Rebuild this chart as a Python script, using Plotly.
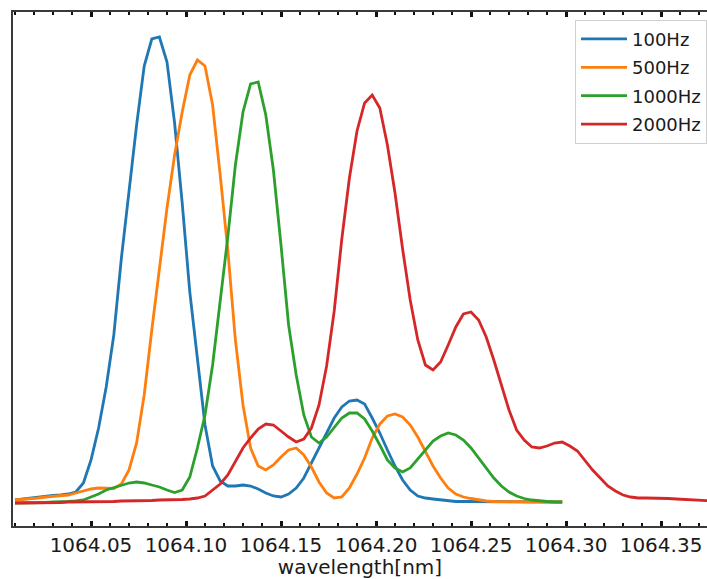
import numpy as np
import plotly.graph_objects as go

# Wavelength grid (nm), 0.004 nm sampling
wl_short = [round(1064.010 + 0.004 * k, 3) for k in range(73)]   # 1064.010 .. 1064.298
wl_long = [round(1064.010 + 0.004 * k, 3) for k in range(93)]    # 1064.010 .. 1064.378

# Spectral intensity (a.u.) for each modulation frequency
i_100hz = [3, 4, 5, 6, 7, 7.5, 8, 9, 11, 20,
           43, 75, 116, 168, 245, 313, 378, 437, 464, 466,
           441, 380, 300, 211, 142, 78, 37, 22, 17, 17,
           18, 17, 14, 10, 7, 6, 9, 15, 25, 40,
           56, 71, 85, 96, 102, 103, 99, 85, 70, 53,
           37, 23, 13, 7, 5, 4, 3, 2, 1.5, 1.5,
           1.5, 1, 1, 1, 1, 1, 1, 1, 1, 1,
           1, 1, 1]
i_500hz = [3, 3.5, 4, 5, 6, 6.5, 7, 8, 10, 12,
           14, 15, 15, 14.5, 19, 33, 60, 108, 173, 233,
           295, 348, 391, 428, 443, 437, 398, 328, 253, 163,
           98, 55, 37, 33, 38, 46, 53, 55, 48, 36,
           21, 10, 5, 6, 15, 29, 45, 65, 79, 87,
           89, 86, 78, 66, 51, 37, 25, 15, 9, 6,
           4.5, 3, 2, 1.5, 1.5, 1, 1, 1, 1, 1,
           1, 1, 1]
i_1000hz = [0, 0, 0, 0, 0.5, 1, 1, 1.5, 2, 3,
            6, 9, 13, 15.5, 18, 20, 21, 20, 18, 16,
            13, 10.5, 13, 26, 55, 88, 138, 203, 266, 338,
            391, 419, 421, 388, 333, 258, 178, 128, 88, 66,
            60, 66, 76, 85, 90, 90, 84, 72, 58, 43,
            35, 31, 35, 44, 53, 62, 67, 70, 68, 63,
            55, 45, 35, 25, 17, 11, 7, 4.5, 3, 2,
            1.5, 1, 1]
i_2000hz = [0, 0, 0, 0, 0, 0.5, 0.5, 1, 1, 1,
            1, 1, 1.5, 1.5, 2, 2, 2, 2.5, 2.5, 3,
            3, 3, 3.5, 4, 5, 7, 13, 19, 28, 42,
            55, 65, 74, 79, 78, 72, 66, 61, 64, 75,
            98, 137, 192, 264, 325, 372, 400, 408, 395, 358,
            310, 254, 203, 163, 138, 133, 141, 158, 176, 189,
            191, 183, 166, 143, 118, 93, 73, 63, 56, 55,
            57, 60, 61, 57, 52, 42, 33, 25, 17, 12,
            8, 6, 5, 5, 5, 5, 4.5, 4, 3.5, 3,
            2.5, 2, 2]

labels = ["100Hz", "500Hz", "1000Hz", "2000Hz"]
colors = ["#1f77b4", "#ff7f0e", "#2ca02c", "#d62728"]
series = [(wl_short, i_100hz), (wl_short, i_500hz),
          (wl_short, i_1000hz), (wl_long, i_2000hz)]

fig = go.Figure()
for (wl, inten), name, col in zip(series, labels, colors):
    fig.add_trace(go.Scatter(
        x=wl, y=inten, mode="lines", name=name, legendgroup=name,
        line=dict(color=col, width=2.8),
    ))

x_range = [1064.00895, 1064.3742]
font_family = "DejaVu Sans"
spine = "#3a3a3a"
text_col = "#1a1a1a"

tick_common = dict(
    range=x_range, tick0=1064.0, dtick=0.05,
    showgrid=False, zeroline=False,
    showline=True, linecolor=spine, linewidth=1.6,
    mirror="allticks", tickcolor="#111",
)

fig.update_layout(
    width=707, height=579,
    margin=dict(l=13, r=0, t=12, b=53),
    paper_bgcolor="white", plot_bgcolor="white",
    font=dict(family=font_family, size=20, color=text_col),
    showlegend=True,
    legend=dict(
        x=1.0, y=0.985, xanchor="right", yanchor="top",
        bgcolor="rgba(255,255,255,0.85)",
        bordercolor="#d0d0d0", borderwidth=1,
        font=dict(family=font_family, size=18, color=text_col),
        tracegroupgap=2, itemwidth=46,
    ),
    # labelled axis: ticks pointing into the plot
    xaxis=dict(
        **tick_common,
        ticks="inside", ticklen=5, tickwidth=2.5,
        tickformat=".2f",
        tickfont=dict(family=font_family, size=20, color=text_col),
        minor=dict(dtick=0.01, ticks="inside", ticklen=3,
                   tickwidth=1.5, tickcolor="#111"),
        title=dict(text="wavelength[nm]", standoff=2,
                   font=dict(family=font_family, size=20, color=text_col)),
    ),
    # companion axis: short outward ticks so marks cross the spine
    xaxis2=dict(
        **tick_common,
        overlaying="x", matches="x", side="bottom", anchor="y",
        ticks="outside", ticklen=4, tickwidth=2.5,
        showticklabels=False,
        minor=dict(dtick=0.01, ticks="outside", ticklen=2,
                   tickwidth=1.5, tickcolor="#111"),
    ),
    yaxis=dict(
        range=[-23, 491], showgrid=False, zeroline=False,
        showline=True, linecolor=spine, linewidth=1.6,
        ticks="", showticklabels=False,
    ),
)

fig.write_html("out.html")
